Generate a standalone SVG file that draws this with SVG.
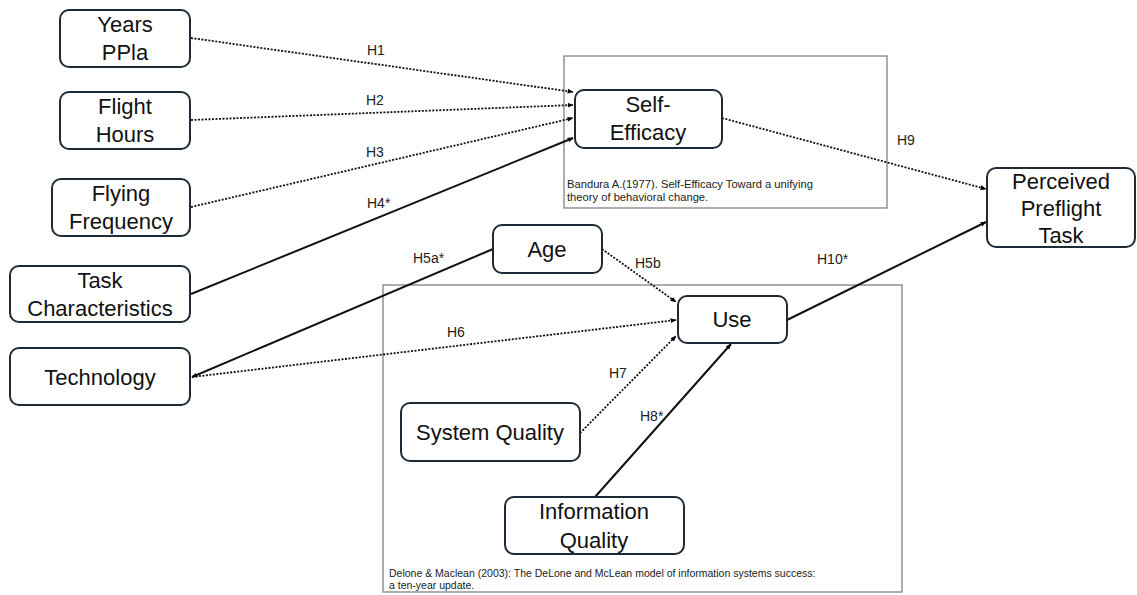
<svg xmlns="http://www.w3.org/2000/svg" width="1137" height="595" viewBox="0 0 1137 595">
<defs>
<marker id="ah" viewBox="0 0 10 10" refX="9" refY="5" markerWidth="6" markerHeight="6" orient="auto-start-reverse" markerUnits="userSpaceOnUse">
<path d="M0,1 L10,5 L0,9 z" fill="#000"/>
</marker>
<style>
.node rect{fill:#fff;stroke:#1e2b36;stroke-width:2}
.node text{font-family:"Liberation Sans",Arial,sans-serif;font-size:22px;fill:#111;text-anchor:middle}
.frame{fill:none;stroke:#777;stroke-width:1.2}
.ref{font-family:"Liberation Sans",Arial,sans-serif;font-size:10.5px;fill:#222}
.lbl{font-family:"Liberation Sans",Arial,sans-serif;font-size:14px;fill:#222}
.dot{stroke:#111;stroke-width:1.8;stroke-dasharray:2 1.5;fill:none}
.sol{stroke:#111;stroke-width:2;fill:none}
</style>
</defs>
<rect width="1137" height="595" fill="#fff"/>
<g id="frames">
<rect class="frame" x="564" y="56" width="323" height="152"/>
<text class="ref" x="567" y="188" style="font-size:11.2px">Bandura A.(1977). Self-Efficacy Toward a unifying</text>
<text class="ref" x="567" y="201" style="font-size:11.2px">theory of behavioral change.</text>
<rect class="frame" x="383" y="285" width="519" height="307"/>
<text class="ref" x="389" y="577">Delone &amp; Maclean (2003): The DeLone and McLean model of information systems success:</text>
<text class="ref" x="389" y="589">a ten-year update.</text>
</g>
<g id="connectors">
<line class="dot" x1="191" y1="38" x2="573" y2="92" marker-end="url(#ah)"/>
<line class="dot" x1="191" y1="120" x2="573" y2="105" marker-end="url(#ah)"/>
<line class="dot" x1="191" y1="207" x2="573" y2="118" marker-end="url(#ah)"/>
<line class="sol" x1="191" y1="294" x2="573" y2="138" marker-end="url(#ah)"/>
<line class="sol" x1="493" y1="249" x2="192" y2="377" marker-end="url(#ah)"/>
<line class="dot" x1="602" y1="249" x2="676" y2="302" marker-end="url(#ah)"/>
<line class="dot" x1="192" y1="377" x2="676" y2="320" marker-end="url(#ah)"/>
<line class="dot" x1="580" y1="433" x2="676" y2="336" marker-end="url(#ah)"/>
<line class="sol" x1="595" y1="497" x2="731" y2="344" marker-end="url(#ah)"/>
<line class="dot" x1="722" y1="118" x2="986" y2="189" marker-end="url(#ah)"/>
<line class="sol" x1="787" y1="320" x2="986" y2="222" marker-end="url(#ah)"/>
<text class="lbl" x="367" y="55">H1</text>
<text class="lbl" x="366" y="105">H2</text>
<text class="lbl" x="366" y="157">H3</text>
<text class="lbl" x="367" y="208">H4*</text>
<text class="lbl" x="413" y="263">H5a*</text>
<text class="lbl" x="635" y="268">H5b</text>
<text class="lbl" x="447" y="337">H6</text>
<text class="lbl" x="609" y="378">H7</text>
<text class="lbl" x="640" y="421">H8*</text>
<text class="lbl" x="897" y="145">H9</text>
<text class="lbl" x="817" y="264">H10*</text>
</g>
<g id="n-years" class="node"><rect x="60" y="10" width="130" height="57" rx="9"/><text x="125" y="32">Years</text><text x="125" y="60">PPla</text></g>
<g id="n-flight" class="node"><rect x="60" y="92" width="130" height="57" rx="9"/><text x="125" y="114">Flight</text><text x="125" y="142">Hours</text></g>
<g id="n-freq" class="node"><rect x="52" y="179" width="138" height="57" rx="9"/><text x="121" y="201">Flying</text><text x="121" y="229">Frequency</text></g>
<g id="n-task" class="node"><rect x="10" y="266" width="180" height="56" rx="9"/><text x="100" y="288">Task</text><text x="100" y="316">Characteristics</text></g>
<g id="n-tech" class="node"><rect x="10" y="348" width="180" height="57" rx="9"/><text x="100" y="385">Technology</text></g>
<g id="n-self" class="node"><rect x="575" y="90" width="147" height="58" rx="9"/><text x="648" y="112">Self-</text><text x="648" y="140">Efficacy</text></g>
<g id="n-ppt" class="node"><rect x="987" y="168" width="148" height="79" rx="9"/><text x="1061" y="189">Perceived</text><text x="1061" y="216">Preflight</text><text x="1061" y="243">Task</text></g>
<g id="n-age" class="node"><rect x="493" y="225" width="109" height="48" rx="9"/><text x="547" y="257">Age</text></g>
<g id="n-use" class="node"><rect x="678" y="296" width="109" height="47" rx="9"/><text x="732" y="327">Use</text></g>
<g id="n-sq" class="node"><rect x="401" y="403" width="179" height="58" rx="9"/><text x="490" y="440">System Quality</text></g>
<g id="n-iq" class="node"><rect x="505" y="497" width="179" height="57" rx="9"/><text x="594" y="519">Information</text><text x="594" y="548">Quality</text></g>
</svg>
